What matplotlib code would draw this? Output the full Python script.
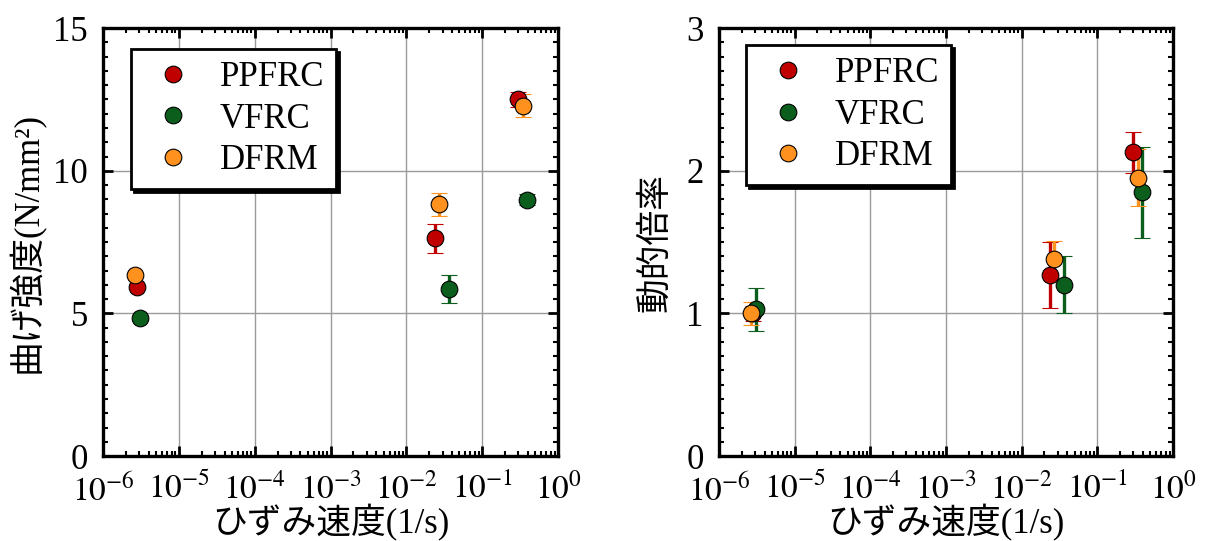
import numpy as np
import matplotlib
matplotlib.use("Agg")
import matplotlib.pyplot as plt
from matplotlib.lines import Line2D
from matplotlib.ticker import LogLocator, MultipleLocator, NullFormatter, FixedLocator

plt.rcParams['font.family'] = ['Liberation Serif', 'Noto Sans CJK JP']
plt.rcParams['mathtext.fontset'] = 'stix'

# strain rates (1/s) for each series
series = ["PPFRC", "VFRC", "DFRM"]
colors = ["#C00000", "#0B5E1B", "#FF921E"]
rate_ppfrc = [2.8e-6, 0.024, 0.30]
rate_vfrc = [3.1e-6, 0.036, 0.39]
rate_dfrm = [2.65e-6, 0.027, 0.34]

# flexural strength (N/mm2) and scatter
strength_ppfrc = [5.94, 7.63, 12.5]
strength_vfrc = [4.83, 5.85, 8.99]
strength_dfrm = [6.36, 8.83, 12.28]
strength_err_ppfrc = [0.1, 0.5, 0.25]
strength_err_vfrc = [0.1, 0.5, 0.2]
strength_err_dfrm = [0.1, 0.4, 0.4]

# dynamic increase factor and scatter
dif_ppfrc = [1.0, 1.27, 2.13]
dif_vfrc = [1.03, 1.2, 1.85]
dif_dfrm = [1.0, 1.38, 1.95]
dif_err_ppfrc = [0.05, 0.23, 0.145]
dif_err_vfrc = [0.15, 0.2, 0.32]
dif_err_dfrm = [0.08, 0.13, 0.2]

rates = [rate_ppfrc, rate_vfrc, rate_dfrm]
strength = [strength_ppfrc, strength_vfrc, strength_dfrm]
strength_err = [strength_err_ppfrc, strength_err_vfrc, strength_err_dfrm]
dif = [dif_ppfrc, dif_vfrc, dif_dfrm]
dif_err = [dif_err_ppfrc, dif_err_vfrc, dif_err_dfrm]

x_major = [1e-6, 1e-5, 1e-4, 1e-3, 1e-2, 1e-1, 1e0]
x_labels = ["$10^{-6}$", "$10^{-5}$", "$10^{-4}$", "$10^{-3}$",
            "$10^{-2}$", "$10^{-1}$", "$10^{0}$"]

fig = plt.figure(figsize=(12.05, 5.41), dpi=100)
ax1 = fig.add_axes([0.0855, 0.157, 0.3776, 0.791])
ax2 = fig.add_axes([0.5967, 0.157, 0.3768, 0.791])


def style_axes(ax, ymax, ymajor, yminor):
    ax.set_xscale('log')
    ax.set_xlim(1e-6, 1)
    ax.set_ylim(0, ymax)
    ax.xaxis.set_major_locator(FixedLocator(x_major))
    ax.set_xticklabels(x_labels)
    ax.xaxis.set_minor_locator(LogLocator(base=10, subs=np.arange(2, 10), numticks=20))
    ax.xaxis.set_minor_formatter(NullFormatter())
    ax.yaxis.set_major_locator(MultipleLocator(ymajor))
    ax.yaxis.set_minor_locator(MultipleLocator(yminor))
    ax.grid(True, which='major', color='#9a9a9a', linewidth=1.0)
    ax.set_axisbelow(True)
    ax.tick_params(which='both', direction='in', top=True, right=True)
    ax.tick_params(which='major', length=7, width=2)
    ax.tick_params(which='minor', length=3.5, width=1.5)
    ax.tick_params(axis='x', which='major', labelsize=24, pad=12)
    ax.tick_params(axis='y', which='major', labelsize=25, pad=11)
    for sp in ax.spines.values():
        sp.set_linewidth(2.4)
    ax.set_xlabel("ひずみ速度(1/s)", fontsize=25, labelpad=-2)


def draw_series(ax, ys, errs):
    for c, x, y, e in zip(colors, rates, ys, errs):
        ax.errorbar(x, y, yerr=e, fmt='o', color=c, ecolor=c, elinewidth=2.4,
                    capsize=6, capthick=2.4, markersize=12,
                    markeredgecolor='black', markeredgewidth=0.8)


def add_legend(ax, anchor):
    handles = [Line2D([], [], linestyle='none', marker='o', markersize=12,
                      markerfacecolor=c, markeredgecolor='black',
                      markeredgewidth=0.8) for c in colors]
    leg = ax.legend(handles, series, loc='upper left', bbox_to_anchor=anchor,
                    fontsize=25, frameon=True, fancybox=False, framealpha=1,
                    edgecolor='black', borderpad=0.35, labelspacing=0.24,
                    handletextpad=0.5, handlelength=1.7, borderaxespad=0,
                    shadow={'color': 'black', 'alpha': 1.0})
    leg.get_frame().set_linewidth(2.0)
    return leg


style_axes(ax1, 15, 5, 0.5)
draw_series(ax1, strength, strength_err)
ax1.set_ylabel("曲げ強度(N/mm²)", fontsize=25, labelpad=6)
add_legend(ax1, (0.0615, 0.951))

style_axes(ax2, 3, 1, 0.1)
draw_series(ax2, dif, dif_err)
ax2.set_ylabel("動的倍率", fontsize=25, labelpad=10)
add_legend(ax2, (0.06, 0.96))

fig.savefig("out.png", dpi=100)
